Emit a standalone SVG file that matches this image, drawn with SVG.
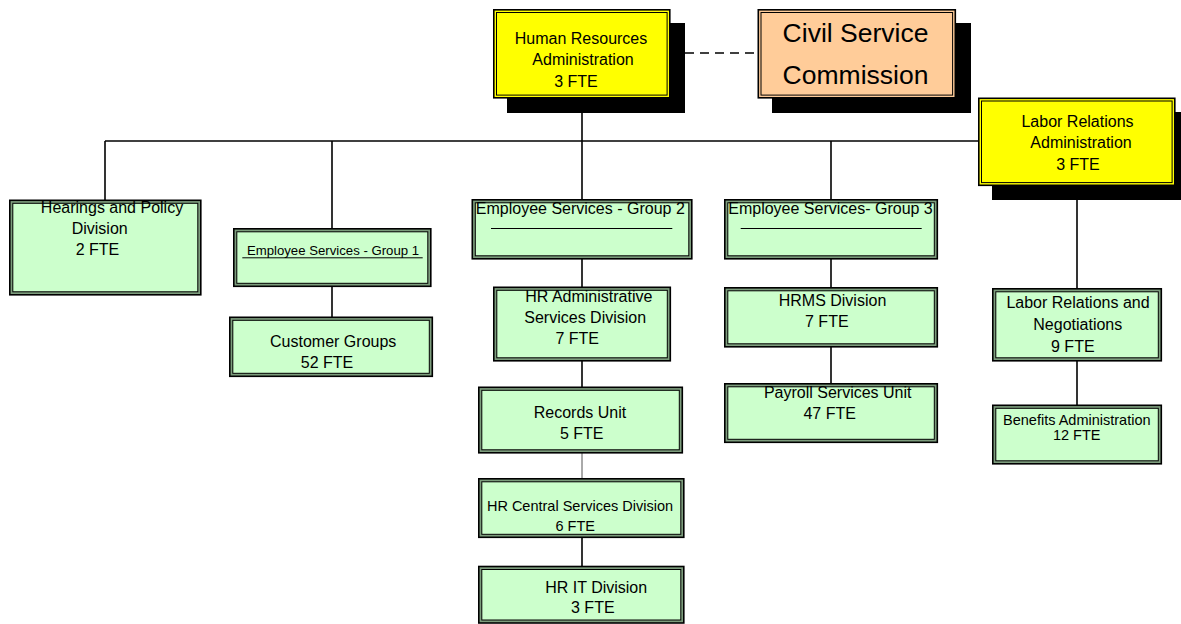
<svg xmlns="http://www.w3.org/2000/svg" width="1181" height="624" viewBox="0 0 1181 624">
  <style>
    .o{stroke:#000;stroke-width:1.6}
    .i{stroke:#000;stroke-width:1}
    .gr .o{fill:#7c9c7c}
    .gr .i{fill:#CCFFCC}
    .ye .o,.ye .i{fill:#FFFF00}
    .pe .o,.pe .i{fill:#FFCC99}
    .sh{fill:#000}
    .t{font-family:"Liberation Sans",Arial,Helvetica,sans-serif;font-size:16px;fill:#000;text-anchor:middle}
    .line{stroke:#000;stroke-width:1.6;fill:none}
    .thin{stroke:#555;stroke-width:1;fill:none}
    .dash{stroke:#000;stroke-width:1.4;fill:none;stroke-dasharray:9 6}
  </style>

  <!-- connectors -->
  <g id="connectors">
    <line class="dash" x1="670" y1="53" x2="758" y2="53"/>
    <line class="line" x1="105" y1="141" x2="978" y2="141"/>
    <line class="line" x1="582" y1="98" x2="582" y2="199"/>
    <line class="line" x1="105" y1="141" x2="105" y2="200"/>
    <line class="line" x1="332" y1="141" x2="332" y2="228"/>
    <line class="line" x1="831" y1="141" x2="831" y2="199"/>
    <line class="line" x1="332" y1="287" x2="332" y2="317"/>
    <line class="line" x1="582" y1="259" x2="582" y2="287"/>
    <line class="line" x1="582" y1="361" x2="582" y2="387"/>
    <line class="thin" x1="582" y1="453" x2="582" y2="478"/>
    <line class="line" x1="582" y1="538" x2="582" y2="566"/>
    <line class="line" x1="831" y1="259" x2="831" y2="287"/>
    <line class="line" x1="831" y1="347" x2="831" y2="383"/>
    <line class="line" x1="1077" y1="185" x2="1077" y2="288"/>
    <line class="line" x1="1077" y1="361" x2="1077" y2="405"/>
  </g>

  <!-- top level -->
  <g id="hr-admin" class="ye">
    <rect class="sh" x="507" y="23" width="178" height="90"/>
    <rect class="o" x="493.8" y="9.8" width="176" height="88"/>
    <rect class="i" x="496.5" y="12.5" width="170.6" height="82.6"/>
    <text class="t" x="581" y="44">Human Resources</text>
    <text class="t" x="583" y="65">Administration</text>
    <text class="t" x="576" y="86.5">3 FTE</text>
  </g>

  <g id="civil-service" class="pe">
    <rect class="sh" x="772" y="23" width="199" height="90"/>
    <rect class="o" x="758.3" y="9.8" width="197" height="88"/>
    <rect class="i" x="761" y="12.5" width="191.6" height="82.6"/>
    <text class="t" x="855.5" y="41.5" style="font-size:26.5px">Civil Service</text>
    <text class="t" x="855.5" y="84" style="font-size:26.5px">Commission</text>
  </g>

  <g id="labor-admin" class="ye">
    <rect class="sh" x="992" y="112" width="196" height="88"/>
    <rect class="o" x="978.8" y="98.3" width="196" height="87"/>
    <rect class="i" x="981.5" y="101" width="190.6" height="81.6"/>
    <text class="t" x="1077.5" y="126.7">Labor Relations</text>
    <text class="t" x="1081" y="148.3">Administration</text>
    <text class="t" x="1078" y="170">3 FTE</text>
  </g>

  <!-- divisions -->
  <g id="hearings" class="gr">
    <rect class="o" x="9.8" y="200.3" width="191" height="94.5"/>
    <rect class="i" x="12.8" y="203.3" width="185" height="88.5"/>
    <text class="t" x="112" y="213">Hearings and Policy</text>
    <text class="t" x="99.7" y="234">Division</text>
    <text class="t" x="97.5" y="255">2 FTE</text>
  </g>

  <g id="group-1" class="gr">
    <rect class="o" x="233.8" y="228.8" width="197" height="57.5"/>
    <rect class="i" x="236.8" y="231.8" width="191" height="51.5"/>
    <text class="t" x="333" y="255" style="font-size:13.2px">Employee Services - Group 1</text>
    <line class="i" x1="242.3" y1="257.8" x2="422.7" y2="257.8"/>
  </g>

  <g id="customer-groups" class="gr">
    <rect class="o" x="229.8" y="317.3" width="202.5" height="59"/>
    <rect class="i" x="232.8" y="320.3" width="196.5" height="53"/>
    <text class="t" x="333.2" y="346.7">Customer Groups</text>
    <text class="t" x="327" y="368.3">52 FTE</text>
  </g>

  <g id="group-2" class="gr">
    <rect class="o" x="472.3" y="199.8" width="219.5" height="59"/>
    <rect class="i" x="475.3" y="202.8" width="213.5" height="53"/>
    <text class="t" x="580.3" y="214.3">Employee Services - Group 2</text>
    <line class="i" x1="491" y1="228.5" x2="672.3" y2="228.5"/>
  </g>

  <g id="group-3" class="gr">
    <rect class="o" x="724.8" y="199.8" width="212.5" height="59"/>
    <rect class="i" x="727.8" y="202.8" width="206.5" height="53"/>
    <text class="t" x="830.5" y="214.3">Employee Services- Group 3</text>
    <line class="i" x1="740.7" y1="228.5" x2="921.7" y2="228.5"/>
  </g>

  <g id="hr-admin-services" class="gr">
    <rect class="o" x="493.8" y="287.3" width="176.5" height="73.5"/>
    <rect class="i" x="496.8" y="290.3" width="170.5" height="67.5"/>
    <text class="t" x="588.8" y="301.7">HR Administrative</text>
    <text class="t" x="585.2" y="323.3">Services Division</text>
    <text class="t" x="577.2" y="344">7 FTE</text>
  </g>

  <g id="records-unit" class="gr">
    <rect class="o" x="478.8" y="387.3" width="203.5" height="65.5"/>
    <rect class="i" x="481.8" y="390.3" width="197.5" height="59.5"/>
    <text class="t" x="580" y="418.3">Records Unit</text>
    <text class="t" x="581.7" y="439">5 FTE</text>
  </g>

  <g id="hr-central" class="gr">
    <rect class="o" x="478.8" y="478.8" width="205" height="58.5"/>
    <rect class="i" x="481.8" y="481.8" width="199" height="52.5"/>
    <text class="t" x="580" y="511" style="font-size:14.5px">HR Central Services Division</text>
    <text class="t" x="575.2" y="530.7" style="font-size:14.5px">6 FTE</text>
  </g>

  <g id="hr-it" class="gr">
    <rect class="o" x="478.8" y="566.5" width="205" height="56.5"/>
    <rect class="i" x="481.8" y="569.5" width="199" height="50.5"/>
    <text class="t" x="596.2" y="592.7">HR IT Division</text>
    <text class="t" x="592.8" y="613.3">3 FTE</text>
  </g>

  <g id="hrms" class="gr">
    <rect class="o" x="724.8" y="287.8" width="212.5" height="59"/>
    <rect class="i" x="727.8" y="290.8" width="206.5" height="53"/>
    <text class="t" x="832.5" y="306">HRMS Division</text>
    <text class="t" x="826.8" y="326.7">7 FTE</text>
  </g>

  <g id="payroll" class="gr">
    <rect class="o" x="724.8" y="383.8" width="212.5" height="58.5"/>
    <rect class="i" x="727.8" y="386.8" width="206.5" height="52.5"/>
    <text class="t" x="837.7" y="398.3">Payroll Services Unit</text>
    <text class="t" x="829.7" y="419">47 FTE</text>
  </g>

  <g id="labor-negotiations" class="gr">
    <rect class="o" x="992.8" y="288.8" width="168.5" height="72"/>
    <rect class="i" x="995.8" y="291.8" width="162.5" height="66"/>
    <text class="t" x="1078" y="308.3">Labor Relations and</text>
    <text class="t" x="1077.8" y="330">Negotiations</text>
    <text class="t" x="1072.8" y="351.7">9 FTE</text>
  </g>

  <g id="benefits" class="gr">
    <rect class="o" x="992.8" y="405.3" width="168.5" height="58.5"/>
    <rect class="i" x="995.8" y="408.3" width="162.5" height="52.5"/>
    <text class="t" x="1076.8" y="424.5" style="font-size:14.5px">Benefits Administration</text>
    <text class="t" x="1076.7" y="440" style="font-size:14.5px">12 FTE</text>
  </g>
</svg>
